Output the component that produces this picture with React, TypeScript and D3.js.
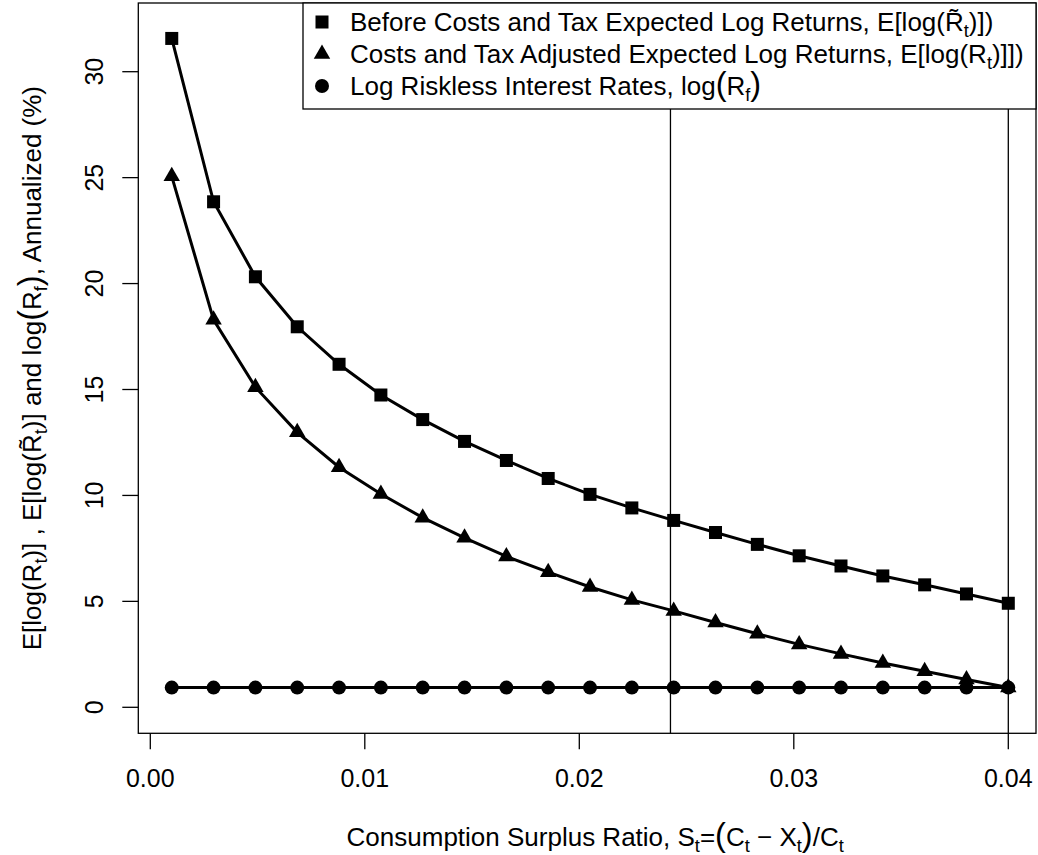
import React from 'react';
import * as d3 from 'd3';

// consumption surplus ratio grid (x)
const surplusRatio = [
  0.001, 0.00295, 0.0049, 0.00685, 0.0088, 0.01075, 0.0127, 0.01465, 0.0166, 0.01855, 0.0205,
  0.02245, 0.0244, 0.02635, 0.0283, 0.03025, 0.0322, 0.03415, 0.0361, 0.03805, 0.04,
];

// before costs and tax expected log returns (%)
const beforeCost = [
  31.57, 23.86, 20.32, 17.96, 16.19, 14.74, 13.58, 12.55, 11.65, 10.8, 10.05,
  9.41, 8.82, 8.25, 7.69, 7.15, 6.67, 6.2, 5.78, 5.35, 4.91,
];

// costs and tax adjusted expected log returns (%)
const afterCost = [
  25.06, 18.29, 15.11, 12.98, 11.33, 10.07, 8.95, 8.0, 7.12, 6.38, 5.68,
  5.07, 4.55, 4.0, 3.47, 2.97, 2.52, 2.09, 1.7, 1.31, 0.93,
];

// log riskless interest rates (%)
const riskless = [
  0.93, 0.93, 0.93, 0.93, 0.93, 0.93, 0.93, 0.93, 0.93, 0.93, 0.93,
  0.93, 0.93, 0.93, 0.93, 0.93, 0.93, 0.93, 0.93, 0.93, 0.93,
];

const xTicks = [0, 0.01, 0.02, 0.03, 0.04];
const xTickLabels = ['0.00', '0.01', '0.02', '0.03', '0.04'];
const yTicks = [0, 5, 10, 15, 20, 25, 30];
const refLines = [0.02425, 0.04];

const W = 1038;
const H = 855;
const box = { left: 138.3, right: 1036, top: 3, bottom: 733.3 };
const FONT = 'Liberation Sans, Arial, Helvetica, sans-serif';
const FS = 25; // tick labels
const LFS = 26; // titles and legend

const x = d3.scaleLinear().domain([0, 0.04]).range([150.3, 1008.3]);
const y = d3.scaleLinear().domain([0, 30]).range([707.3, 71.7]);

const Square = ({ cx, cy }) => <rect x={cx - 6.5} y={cy - 6.5} width={13} height={13} fill="#000" />;
const Triangle = ({ cx, cy }) => {
  const r = 9.5;
  const h = (r * Math.sqrt(3)) / 2;
  return <path d={`M${cx},${cy - r}L${cx + h},${cy + r / 2}L${cx - h},${cy + r / 2}Z`} fill="#000" />;
};
const Dot = ({ cx, cy }) => <circle cx={cx} cy={cy} r={7} fill="#000" />;

// subscript, plotmath style
const Sub = ({ s }) => (
  <tspan fontSize={LFS * 0.7} baselineShift={-6}>{s}</tspan>
);
const Big = ({ s }) => <tspan fontSize={LFS * 1.25}>{s}</tspan>;

const series = [
  { values: beforeCost, Marker: Square },
  { values: afterCost, Marker: Triangle },
  { values: riskless, Marker: Dot },
];

export default function App() {
  const line = (vals) =>
    d3.line<number>()
      .x((_, i) => x(surplusRatio[i]))
      .y((d) => y(d))(vals);

  const legendLeft = 303;
  const legendBottom = 109;
  const rowY = [22, 54, 86];
  const textX = 350;

  return (
    <div style={{ position: 'absolute', left: 0, top: 0 }}>
      <svg width={W} height={H} style={{ display: 'block', background: '#fff' }} fontFamily={FONT}>
        <rect x={0} y={0} width={W} height={H} fill="#fff" />

        {/* reference lines */}
        {refLines.map((v) => (
          <line key={v} x1={x(v)} x2={x(v)} y1={box.bottom} y2={box.top} stroke="#000" strokeWidth={1.3} />
        ))}

        {/* series lines */}
        {series.map((s, k) => (
          <path key={k} d={line(s.values)} fill="none" stroke="#000" strokeWidth={3} />
        ))}
        {series.map((s, k) =>
          s.values.map((v, i) => <s.Marker key={`${k}-${i}`} cx={x(surplusRatio[i])} cy={y(v)} />)
        )}

        {/* box */}
        <rect x={box.left} y={box.top} width={box.right - box.left} height={box.bottom - box.top}
          fill="none" stroke="#000" strokeWidth={1.3} />

        {/* x axis */}
        {xTicks.map((t, i) => (
          <g key={t}>
            <line x1={x(t)} x2={x(t)} y1={box.bottom} y2={box.bottom + 16} stroke="#000" strokeWidth={1.3} />
            <text x={x(t)} y={787} fontSize={FS} textAnchor="middle">{xTickLabels[i]}</text>
          </g>
        ))}

        {/* y axis */}
        {yTicks.map((t) => (
          <g key={t}>
            <line x1={box.left - 16} x2={box.left} y1={y(t)} y2={y(t)} stroke="#000" strokeWidth={1.3} />
            <text transform={`translate(103,${y(t)}) rotate(-90)`} fontSize={FS} textAnchor="middle">{t}</text>
          </g>
        ))}

        {/* x title */}
        <text x={(box.left + box.right) / 2 + 8} y={846} fontSize={LFS} textAnchor="middle">
          Consumption Surplus Ratio, S<Sub s="t" />=<Big s="(" />C<Sub s="t" /> − X<Sub s="t" /><Big s=")" />/C<Sub s="t" />
        </text>

        {/* y title */}
        <text transform={`translate(41,${(box.top + box.bottom) / 2}) rotate(-90)`} fontSize={LFS} textAnchor="middle">
          E[log(R<Sub s="t" />)] , E[log(R{'\u0303'}<Sub s="t" />)] and log<Big s="(" />R<Sub s="f" /><Big s=")" />, Annualized (%)
        </text>

        {/* legend */}
        <rect x={legendLeft} y={box.top} width={box.right - legendLeft} height={legendBottom - box.top}
          fill="#fff" stroke="#000" strokeWidth={1.3} />
        <Square cx={322} cy={rowY[0]} />
        <Triangle cx={322} cy={rowY[1]} />
        <Dot cx={322} cy={rowY[2]} />
        <text x={textX} y={rowY[0] + 9} fontSize={LFS}>
          Before Costs and Tax Expected Log Returns, E[log(R{'\u0303'}<Sub s="t" />)])
        </text>
        <text x={textX} y={rowY[1] + 9} fontSize={LFS}>
          Costs and Tax Adjusted Expected Log Returns, E[log(R<Sub s="t" />)]])
        </text>
        <text x={textX} y={rowY[2] + 9} fontSize={LFS}>
          Log Riskless Interest Rates, log<Big s="(" />R<Sub s="f" /><Big s=")" />
        </text>
      </svg>
    </div>
  );
}
